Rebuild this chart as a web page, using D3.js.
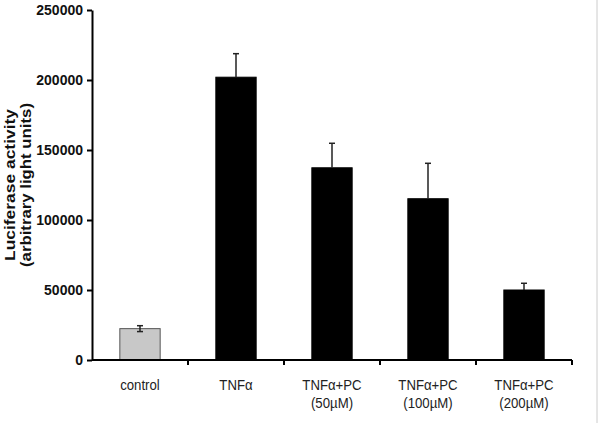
<!DOCTYPE html>
<html>
<head>
<meta charset="utf-8">
<script src="https://cdn.jsdelivr.net/npm/d3@7"></script>
<style>
  body { margin: 0; background: #fff; }
  svg { font-family: "Liberation Sans", Arial, sans-serif; }
</style>
</head>
<body>
<div id="chart"></div>
<script>
var categories = ['control', 'TNFα', 'TNFα+PC|(50µM)', 'TNFα+PC|(100µM)', 'TNFα+PC|(200µM)'];
var values = [22400, 202000, 137300, 115200, 50000];
var errors = [2100, 16800, 17500, 25300, 4800];
var yTicks = [0, 50000, 100000, 150000, 200000, 250000];

var width = 600, height = 423;
var margin = { top: 10, right: 28, bottom: 63, left: 92 };

var svg = d3.select('#chart')
  .append('svg')
    .attr('width', width)
    .attr('height', height);

var x = d3.scaleBand()
  .domain(categories)
  .range([margin.left, width - margin.right])
  .paddingInner(0.58)
  .paddingOuter(0.29);

var y = d3.scaleLinear()
  .domain([0, 250000])
  .range([height - margin.bottom, margin.top]);

// bars
svg.selectAll('rect.bar')
  .data(values)
  .enter()
    .append('rect')
      .attr('class', 'bar')
      .attr('x', function(d, i) { return x(categories[i]); })
      .attr('y', function(d) { return y(d); })
      .attr('width', x.bandwidth())
      .attr('height', function(d) { return y(0) - y(d); })
      .attr('fill', function(d, i) { return i === 0 ? '#c8c8c8' : '#000'; })
      .attr('stroke', function(d, i) { return i === 0 ? '#555' : '#000'; })
      .attr('stroke-width', 1);

// error bars (control shows both sides, the rest only the upper half)
var eb = svg.append('g').attr('stroke', '#222').attr('stroke-width', 1.5);
values.forEach(function(v, i) {
  var cx = x(categories[i]) + x.bandwidth() / 2;
  var lo = i === 0 ? v - errors[i] : v;
  var hi = v + errors[i];
  eb.append('line').attr('x1', cx).attr('x2', cx).attr('y1', y(lo)).attr('y2', y(hi));
  eb.append('line').attr('x1', cx - 3).attr('x2', cx + 3).attr('y1', y(hi)).attr('y2', y(hi));
  if (i === 0) {
    eb.append('line').attr('x1', cx - 3).attr('x2', cx + 3).attr('y1', y(lo)).attr('y2', y(lo));
  }
});

// y axis
var yAxis = svg.append('g')
  .attr('transform', 'translate(' + margin.left + ',0)')
  .call(d3.axisLeft(y).tickValues(yTicks).tickFormat(d3.format('d')).tickSize(5).tickSizeOuter(0));
yAxis.select('.domain').attr('stroke', '#000').attr('stroke-width', 2);
yAxis.selectAll('.tick line').attr('stroke-width', 2);
yAxis.selectAll('.tick text')
  .attr('font-size', 14)
  .attr('font-weight', 'bold')
  .attr('font-family', '"Liberation Sans", Arial, sans-serif')
  .attr('fill', '#111')
  .attr('x', -9);

// x axis with ticks at band boundaries
var xAxis = svg.append('g')
  .attr('transform', 'translate(0,' + y(0) + ')');
xAxis.append('line')
  .attr('x1', margin.left).attr('x2', width - margin.right)
  .attr('stroke', '#000').attr('stroke-width', 2);
var step = x.step();
var bounds = categories.map(function(c, i) { return margin.left + step * (i + 1); });
xAxis.selectAll('line.tk')
  .data(bounds)
  .enter()
    .append('line')
      .attr('class', 'tk')
      .attr('x1', function(d) { return d; })
      .attr('x2', function(d) { return d; })
      .attr('y1', 0).attr('y2', 5)
      .attr('stroke', '#000').attr('stroke-width', 2);

// category labels: slightly condensed like the scanned figure
xAxis.selectAll('text.cat')
  .data(categories)
  .enter()
    .append('text')
      .attr('class', 'cat')
      .attr('text-anchor', 'middle')
      .attr('font-size', 15)
      .attr('fill', '#222')
      .each(function(d) {
        var t = d3.select(this);
        var cx = x(d) + x.bandwidth() / 2;
        d.split('|').forEach(function(line, k) {
          var ts = t.append('tspan').attr('x', cx).attr('y', 30 + k * 18).text(line);
          var w = ts.node().getComputedTextLength();
          ts.attr('textLength', w * 0.88).attr('lengthAdjust', 'spacingAndGlyphs');
        });
      });

// y axis title
svg.append('text')
  .attr('transform', 'translate(15,' + (margin.top + 175) + ') rotate(-90)')
  .attr('text-anchor', 'middle')
  .attr('font-size', 14)
  .attr('font-weight', 'bold')
  .attr('fill', '#111')
  .selectAll('tspan')
  .data([['Luciferase activity', 152], ['(arbitrary light units)', 164]])
  .enter()
    .append('tspan')
      .attr('x', 0)
      .attr('y', function(d, i) { return i * 16; })
      .attr('textLength', function(d) { return d[1]; })
      .attr('lengthAdjust', 'spacingAndGlyphs')
      .text(function(d) { return d[0]; });

// thin frame edge on the right as in the scan
svg.append('line')
  .attr('x1', 597).attr('x2', 597).attr('y1', 0).attr('y2', height)
  .attr('stroke', '#ccc');
</script>
</body>
</html>
